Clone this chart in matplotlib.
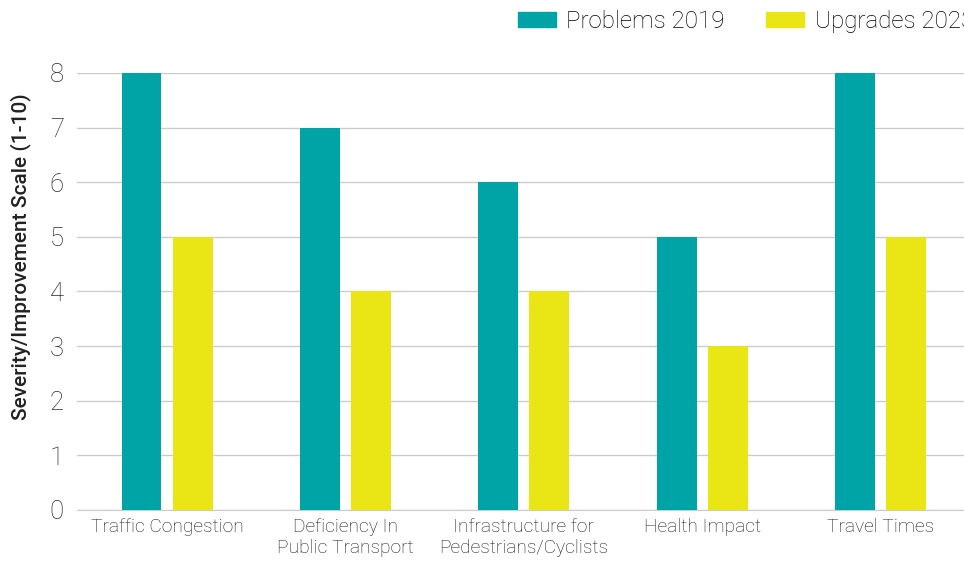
import numpy as np
import matplotlib.pyplot as plt
from matplotlib.patches import Patch

categorias = ['Traffic Congestion', 'Deficiency In\nPublic Transport',
              'Infrastructure for\nPedestrians/Cyclists', 'Health Impact', 'Travel Times']
problemas_2019 = [8, 7, 6, 5, 8]
melhorias_2023 = [5, 4, 4, 3, 5]
rotulos_series = ['Problems 2019', 'Upgrades 2023']

cor_teal = '#00A3A6'
cor_amarelo = '#EAE616'

plt.rcParams['font.family'] = ['Roboto', 'DejaVu Sans']

fig = plt.figure(figsize=(9.64, 5.61), dpi=100)
ax = fig.add_axes([0.080, 0.091, 0.920, 0.779])

x = np.arange(len(categorias))
largura = 0.224
ax.bar(x - 0.143, problemas_2019, largura, color=cor_teal, zorder=3)
ax.bar(x + 0.143, melhorias_2023, largura, color=cor_amarelo, zorder=3)

ax.set_xlim(-0.504, 4.468)
ax.set_ylim(0, 8)
ax.set_yticks(range(0, 9))
ax.set_xticks(x)
ax.set_xticklabels(categorias, fontsize=13.8, fontweight='light', color='#1a1a1a',
                   linespacing=1.25)
for t in ax.get_yticklabels():
    t.set_fontsize(18.5)
    t.set_fontweight('light')
    t.set_color('#2b2b2b')
ax.tick_params(axis='both', length=0)
ax.tick_params(axis='y', pad=9.5)
ax.tick_params(axis='x', pad=5.5)
ax.grid(axis='y', color='#cccccc', linewidth=1, zorder=0)
for lado in ['top', 'right', 'left']:
    ax.spines[lado].set_visible(False)
ax.spines['bottom'].set_color('#cccccc')
ax.set_ylabel('Severity/Improvement Scale (1-10)', fontsize=15, fontweight='medium',
              color='#222222')
ax.yaxis.set_label_coords(-0.052, 0.580)

handles = [Patch(color=cor_teal), Patch(color=cor_amarelo)]
fig.legend(handles, rotulos_series, loc='upper left', bbox_to_anchor=(0.532, 0.99),
           ncol=2, frameon=False, prop={'weight': 'light', 'size': 17.4},
           handlelength=1.57, handleheight=0.58, columnspacing=1.7, handletextpad=0.45,
           borderaxespad=0, borderpad=0.2)

fig.savefig('out.png', dpi=100)
